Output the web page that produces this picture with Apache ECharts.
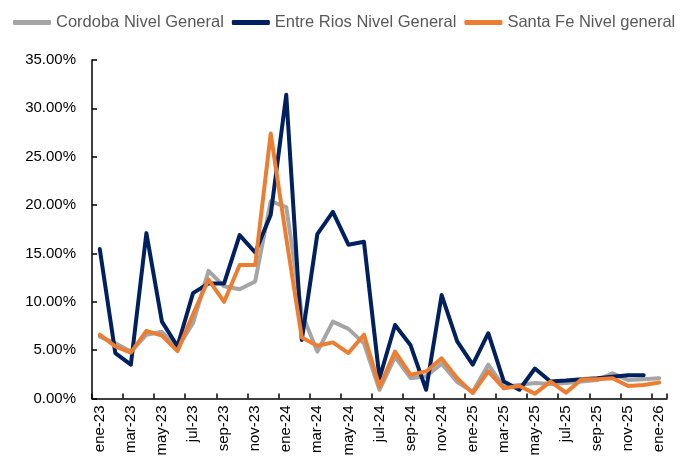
<!DOCTYPE html>
<html>
<head>
<meta charset="utf-8">
<script src="https://cdn.jsdelivr.net/npm/echarts@6/dist/echarts.min.js"></script>
<style>
  html, body { margin: 0; padding: 0; background: #fff; }
  #chart { width: 690px; height: 464px; }
</style>
</head>
<body>
<div id="chart"></div>
<script>
var months = [
  "ene-23","feb-23","mar-23","abr-23","may-23","jun-23","jul-23","ago-23","sep-23","oct-23","nov-23","dic-23",
  "ene-24","feb-24","mar-24","abr-24","may-24","jun-24","jul-24","ago-24","sep-24","oct-24","nov-24","dic-24",
  "ene-25","feb-25","mar-25","abr-25","may-25","jun-25","jul-25","ago-25","sep-25","oct-25","nov-25","dic-25",
  "ene-26"
];

var cordoba = [
  6.4, 5.7, 4.85, 6.6, 6.9, 5.2, 7.8, 13.2, 11.6, 11.3, 12.1, 20.4,
  19.8, 8.8, 4.85, 7.95, 7.2, 5.7, 0.9, 4.3, 2.1, 2.3, 3.6, 1.7,
  0.7, 3.5, 1.2, 1.4, 1.6, 1.5, 1.6, 1.75, 1.9, 2.6, 1.9, 2.0,
  2.1
];

var entreRios = [
  15.45, 4.7, 3.5, 17.1, 7.95, 5.4, 10.9, 11.9, 11.9, 16.9, 15.1, 19.0,
  31.4, 6.05, 17.0, 19.3, 15.9, 16.2, 2.1, 7.6, 5.5, 0.9, 10.7, 5.9,
  3.5, 6.75, 1.75, 0.9, 3.1, 1.75, 1.85, 2.0, 2.1, 2.25, 2.4, 2.4,
  null
];

var santaFe = [
  6.6, 5.4, 4.75, 7.0, 6.5, 4.9, 8.7, 12.3, 10.0, 13.8, 13.8, 27.4,
  16.6, 6.3, 5.45, 5.8, 4.7, 6.6, 1.2, 4.85, 2.45, 2.8, 4.15, 2.1,
  0.55, 2.8, 1.05, 1.3, 0.5, 1.75, 0.6, 2.0, 2.0, 2.1, 1.3, 1.4,
  1.65
];

var chart = echarts.init(document.getElementById("chart"));
var font = "Liberation Sans";

function lineSeries(name, data, color) {
  return {
    name: name,
    type: "line",
    data: data,
    symbol: "none",
    smooth: false,
    connectNulls: false,
    lineStyle: { color: color, width: 4, join: "round", cap: "round" },
    itemStyle: { color: color },
    animation: false
  };
}

chart.setOption({
  backgroundColor: "#fff",
  animation: false,
  textStyle: { fontFamily: font },
  legend: {
    left: 8,
    top: 9,
    itemWidth: 38,
    itemHeight: 5,
    itemGap: 8,
    icon: "roundRect",
    textStyle: { fontFamily: font, fontSize: 16.5, color: "#595959" },
    data: ["Cordoba Nivel General", "Entre Rios Nivel General", "Santa Fe Nivel general"]
  },
  grid: {
    left: 92,
    right: 23,
    top: 60,
    bottom: 65.5,
    containLabel: false
  },
  xAxis: {
    type: "category",
    data: months,
    boundaryGap: true,
    axisLine: { show: true, lineStyle: { color: "#000", width: 1.5 } },
    axisTick: { show: true, inside: true, length: 5, interval: 1, lineStyle: { color: "#000", width: 1.5 } },
    axisLabel: {
      interval: 1,
      rotate: 90,
      margin: 7,
      fontFamily: font,
      fontSize: 15,
      color: "#000"
    },
    splitLine: { show: false }
  },
  yAxis: {
    type: "value",
    min: 0,
    max: 35,
    interval: 5,
    axisLine: { show: true, lineStyle: { color: "#000", width: 1.5 } },
    axisTick: { show: true, inside: true, length: 5, lineStyle: { color: "#000", width: 1.5 } },
    axisLabel: {
      margin: 16,
      fontFamily: font,
      fontSize: 15,
      color: "#000",
      formatter: function (v) { return v.toFixed(2) + "%"; }
    },
    splitLine: { show: false }
  },
  series: [
    lineSeries("Cordoba Nivel General", cordoba, "#A5A5A5"),
    lineSeries("Entre Rios Nivel General", entreRios, "#002060"),
    lineSeries("Santa Fe Nivel general", santaFe, "#ED7D31")
  ]
});
</script>
</body>
</html>
